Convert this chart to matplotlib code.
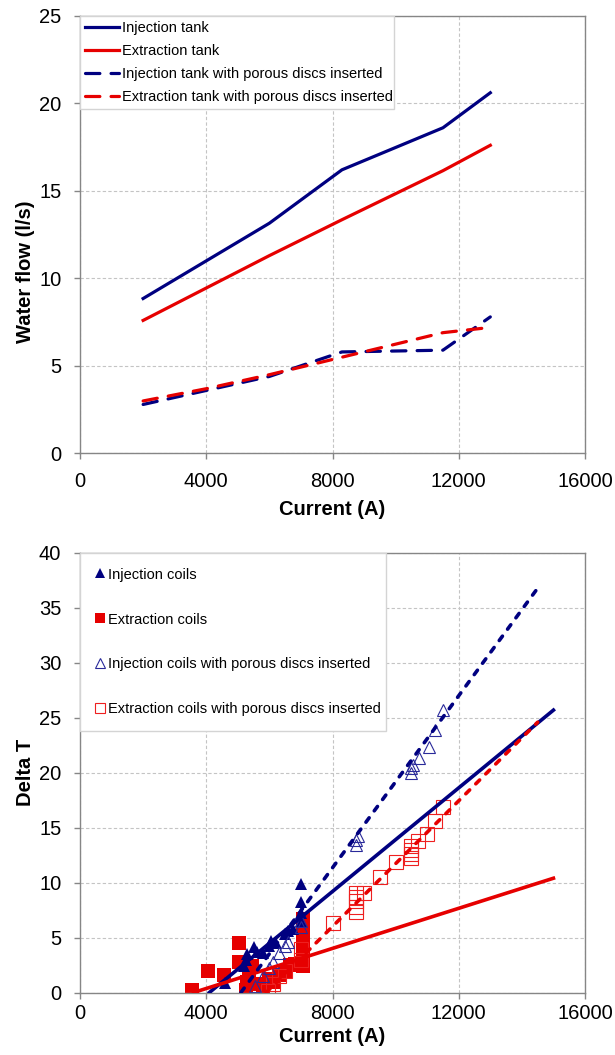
import matplotlib
matplotlib.use("Agg")
import matplotlib.pyplot as plt

plt.rcParams['font.family'] = ['Liberation Sans', 'DejaVu Sans']

NAVY = '#000080'
RED = '#e60000'

# ---- upper chart: water flow vs current
tank_current = [2000, 6000, 8300, 11500, 13000]
inj_tank = [8.85, 13.15, 16.2, 18.6, 20.6]
ext_tank = [7.6, 11.3, 13.35, 16.15, 17.6]
disc_current = [2000, 4000, 6000, 8300, 11500, 13000]
inj_tank_disc = [2.8, 3.6, 4.4, 5.8, 5.9, 7.8]
ext_tank_disc = [3.0, 3.7, 4.5, 5.5, 6.9, 7.2]

# ---- lower chart: delta T vs current
inj_coil_x = [4600, 5200, 5250, 5300, 5500, 5600, 5800, 6000, 6050, 6200,
              6500, 6600, 6750, 7000, 7000, 7000, 7000]
inj_coil_y = [0.9, 2.4, 3.0, 3.5, 4.1, 3.7, 3.6, 4.2, 4.7, 4.5,
              5.3, 5.6, 5.8, 6.5, 7.2, 8.2, 9.9]

ext_coil_x = [3550, 4050, 4550, 5050, 5050, 5250, 5300, 5350, 5450, 5600,
              5800, 6000, 6100, 6300, 6500, 6650, 6800, 7050, 7050, 7050,
              7050, 7050, 7050, 7050]
ext_coil_y = [0.2, 2.0, 1.6, 4.5, 2.8, 0.2, 1.0, 1.5, 2.4, 0.8,
              0.6, 1.2, 1.0, 1.6, 2.0, 2.5, 2.6, 2.4, 3.0, 3.7,
              4.5, 5.3, 6.0, 6.7]

inj_disc_x = [5550, 5800, 6000, 6100, 6300, 6500, 6600, 7000, 7000, 8750,
              8750, 8800, 10500, 10500, 10550, 10750, 11050, 11250, 11500]
inj_disc_y = [0.6, 1.5, 2.2, 2.8, 3.6, 4.2, 4.6, 6.0, 6.5, 13.4,
              13.9, 14.2, 20.0, 20.4, 20.7, 21.3, 22.3, 23.9, 25.7]

ext_disc_x = [5950, 6100, 6300, 6500, 7000, 7000, 8000, 8750, 8750, 8750,
              8750, 8750, 9000, 9500, 10000, 10500, 10500, 10500, 10500, 10700,
              11000, 11250, 11500]
ext_disc_y = [0.1, 0.8, 1.5, 2.0, 3.0, 4.0, 6.3, 7.3, 7.8, 8.3,
              8.7, 9.1, 9.1, 10.5, 11.9, 12.2, 12.6, 13.0, 13.3, 13.8,
              14.4, 15.6, 16.9]

# trend lines (end points)
inj_fit_x, inj_fit_y = [4100, 15000], [0, 25.7]
ext_fit_x, ext_fit_y = [3600, 15000], [0, 10.4]
inj_disc_fit_x, inj_disc_fit_y = [5100, 14500], [0, 36.8]
ext_disc_fit_x, ext_disc_fit_y = [5900, 14500], [0, 24.6]

x_ticks = [0, 4000, 8000, 12000, 16000]


def style_axes(ax, yticks, xpad):
    ax.set_xlim(0, 16000)
    ax.set_ylim(yticks[0], yticks[-1])
    ax.set_xticks(x_ticks)
    ax.set_yticks(yticks)
    ax.grid(True, color='#c4c4c4', linestyle=(0, (3, 2)), linewidth=0.8)
    ax.set_axisbelow(True)
    for s in ax.spines.values():
        s.set_color('#868686')
        s.set_linewidth(1.0)
    ax.tick_params(direction='out', length=4.5, width=1, color='#868686',
                   labelsize=14.5, pad=9)
    ax.tick_params(axis='x', pad=xpad)


fig = plt.figure(figsize=(6.15, 10.55), dpi=100)

# upper chart
ax1 = fig.add_axes([80 / 615, 1 - 453.5 / 1055, 505 / 615, 437.8 / 1055])
lw = 2.3
ax1.plot(tank_current, inj_tank, color=NAVY, lw=lw, label='Injection tank')
ax1.plot(tank_current, ext_tank, color=RED, lw=lw, label='Extraction tank')
ax1.plot(disc_current, inj_tank_disc, color=NAVY, lw=lw, dashes=(4.5, 3.5),
         dash_capstyle='round', label='Injection tank with porous discs inserted')
ax1.plot(disc_current, ext_tank_disc, color=RED, lw=lw, dashes=(4.5, 3.5),
         dash_capstyle='round', label='Extraction tank with porous discs inserted')
style_axes(ax1, [0, 5, 10, 15, 20, 25], 9)
ax1.set_xlabel('Current (A)', fontsize=14.5, fontweight='bold', labelpad=6)
ax1.set_ylabel('Water flow (l/s)', fontsize=14.5, fontweight='bold')
ax1.yaxis.set_label_coords(-0.09, 0.415)
leg1 = ax1.legend(loc='upper left', bbox_to_anchor=(0, 1, 314 / 505, 0),
                  mode='expand', borderaxespad=0, fontsize=10.5,
                  handlelength=2.3, handletextpad=0.2, labelspacing=0.63,
                  borderpad=0.35, fancybox=False, framealpha=1)
leg1.get_frame().set_edgecolor('#d4d4d4')
leg1.get_frame().set_linewidth(1.0)

# lower chart
ax2 = fig.add_axes([80 / 615, 1 - 992.5 / 1055, 505 / 615, 439.5 / 1055])
ax2.plot(ext_coil_x, ext_coil_y, 's', color=RED, ms=9.5, mew=0, ls='none',
         label='Extraction coils', zorder=2)
ax2.plot(inj_coil_x, inj_coil_y, '^', color=NAVY, ms=9, mew=0, ls='none',
         label='Injection coils', zorder=2.1)
ax2.plot(ext_disc_x, ext_disc_y, 's', mfc='none', mec='#ee2020', ms=9.5, mew=0.8,
         ls='none', label='Extraction coils with porous discs inserted', zorder=2.2)
ax2.plot(inj_disc_x, inj_disc_y, '^', mfc='none', mec='#2a2a9a', ms=8.5, mew=0.8,
         ls='none', label='Injection coils with porous discs inserted', zorder=2.3)
lw2 = 2.6
ax2.plot(inj_fit_x, inj_fit_y, color=NAVY, lw=lw2, zorder=3)
ax2.plot(ext_fit_x, ext_fit_y, color=RED, lw=lw2, zorder=3)
ax2.plot(inj_disc_fit_x, inj_disc_fit_y, color=NAVY, lw=lw2, dashes=(1.5, 2.4),
         dash_capstyle='round', zorder=3)
ax2.plot(ext_disc_fit_x, ext_disc_fit_y, color=RED, lw=lw2, dashes=(1.5, 2.4),
         dash_capstyle='round', zorder=3)
style_axes(ax2, [0, 5, 10, 15, 20, 25, 30, 35, 40], 4)
ax2.set_xlabel('Current (A)', fontsize=14.5, fontweight='bold', labelpad=3)
ax2.set_ylabel('Delta T', fontsize=14.5, fontweight='bold')
ax2.yaxis.set_label_coords(-0.09, 0.5)

h, l = ax2.get_legend_handles_labels()
order = [1, 0, 3, 2]
leg2 = ax2.legend([h[i] for i in order], [l[i] for i in order],
                  loc='upper left', bbox_to_anchor=(0, 1, 306 / 505, 0),
                  mode='expand', borderaxespad=0, fontsize=10.5, numpoints=1,
                  handlelength=0.8, handletextpad=0.1, labelspacing=2.12,
                  borderpad=1.0, fancybox=False, framealpha=1)
leg2.get_frame().set_edgecolor('#d4d4d4')
leg2.get_frame().set_linewidth(1.0)
for lh in leg2.legend_handles:
    lh.set_markersize(7)

fig.savefig('out.png', dpi=100)
